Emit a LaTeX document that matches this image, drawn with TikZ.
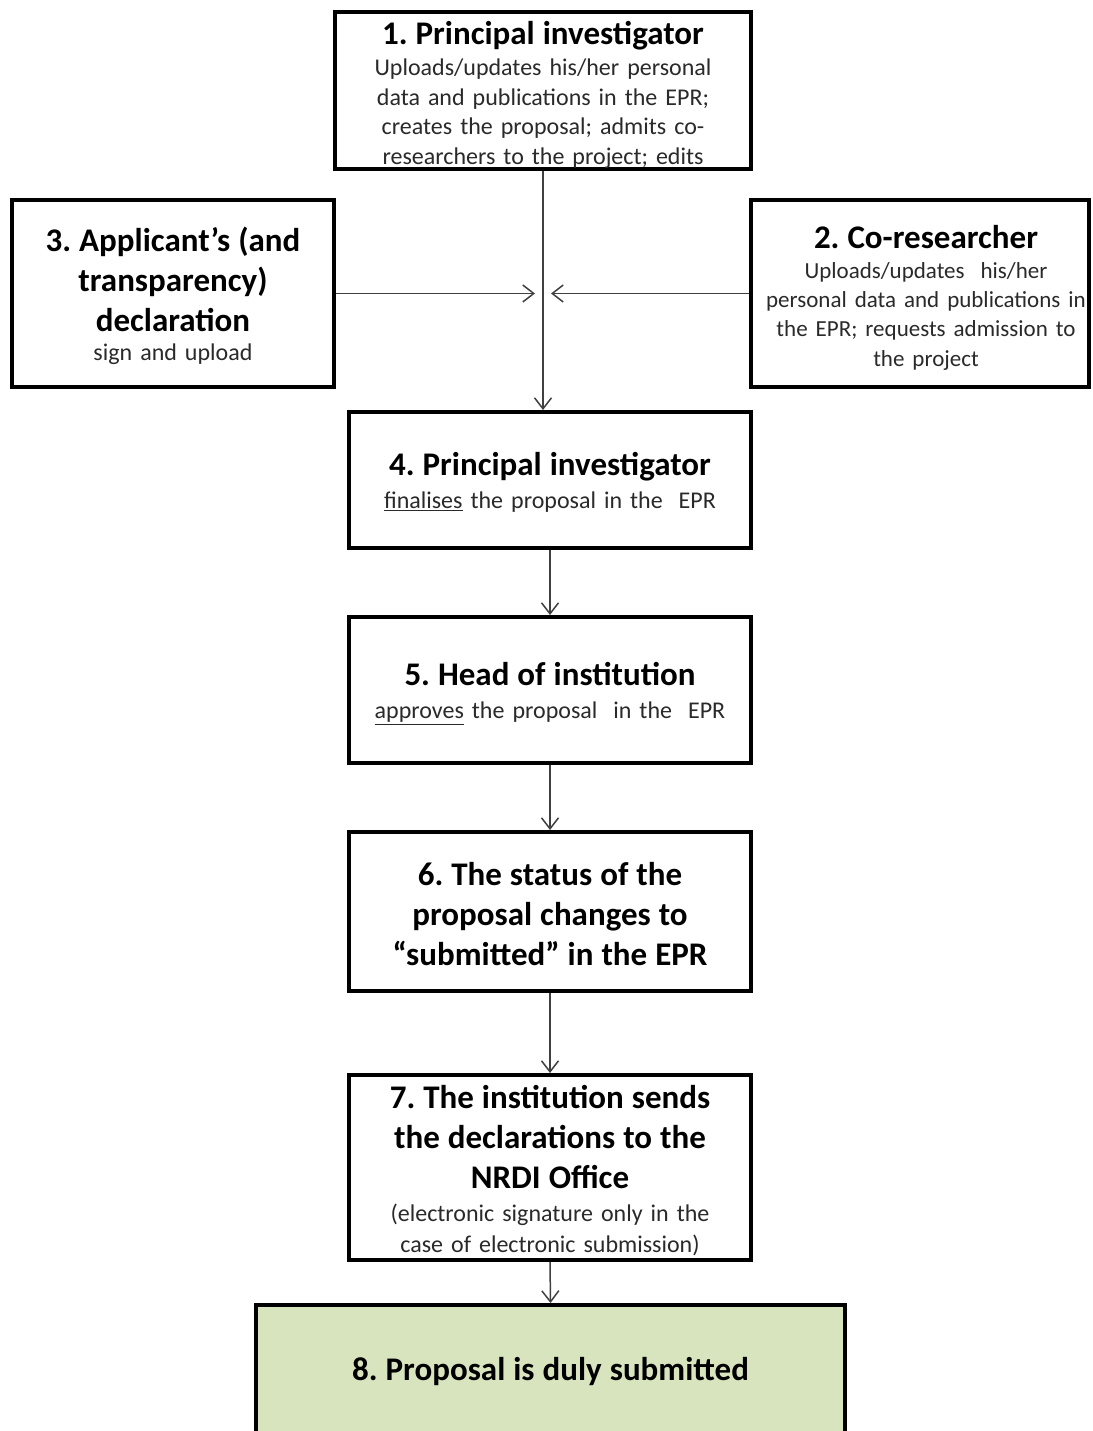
\documentclass[tikz,border=0pt]{standalone}
\usepackage{fontspec}
\setmainfont{Carlito}
\usetikzlibrary{arrows.meta}
\definecolor{bodytext}{HTML}{2A2A2A}
\definecolor{conncol}{HTML}{404040}
\definecolor{donefill}{HTML}{D7E4BD}
\newcommand{\Tf}{\fontsize{33}{40}\bfseries\selectfont\color{black}}
\newcommand{\Bf}{\fontsize{24}{29.5}\mdseries\selectfont\color{bodytext}}
\newcommand{\Bs}{\fontsize{23}{29.2}\mdseries\selectfont\color{bodytext}}
\newcommand{\sh}{\hspace*{12pt}}
\newcommand{\up}[1]{\rule{0pt}{#1}}
\newcommand{\boxsetup}{\frenchspacing\lineskiplimit=-100pt\relax\hyphenpenalty=10000\relax\exhyphenpenalty=10000\relax\Bf}
\begin{document}
\begin{tikzpicture}[x=1pt,y=-1pt,
  box/.style={draw=black, line width=4pt, inner sep=0pt, align=center,
    font=\boxsetup},
  conn/.style={draw=conncol, line width=1.5pt,
    -{Straight Barb[length=11pt,width=17pt,line width=1.5pt]}}]
\useasboundingbox (0,0) rectangle (1092,1431);
\fill[white] (0,0) rectangle (1092,1431);

\node[box, minimum width=416pt, minimum height=157pt, text width=405pt] (b1) at (543,90.5)
 {\Tf\up{32pt}1. Principal investigator\\[2pt]\Bf Uploads/updates his/her personal\\ data and publications in the EPR;\\ creates the proposal; admits co-\\ researchers to the project; edits};

\node[box, minimum width=322pt, minimum height=187pt, text width=312pt] (b3) at (173,293.5)
 {\Tf\up{29pt}3. Applicant’s (and\\ transparency)\\ declaration\\[0pt]\Bf sign and upload};

\node[box, minimum width=338pt, minimum height=187pt, text width=336pt] (b2) at (920,293.5)
 {\Tf\up{32pt}\sh 2. Co-researcher\\[0pt]\Bs\sh Uploads/updates\ \ his/her\\ \sh personal data and publications in\\ \sh the EPR; requests admission to\\ \sh the project};

\node[box, minimum width=402pt, minimum height=136pt, text width=392pt] (b4) at (550,480)
 {\Tf\up{28pt}4. Principal investigator\\[4pt]\Bf \underline{finalises} the proposal in the\ \ EPR};

\node[box, minimum width=402pt, minimum height=146pt, text width=392pt] (b5) at (550,690)
 {\Tf\up{30pt}5. Head of institution\\[4pt]\Bf \underline{approves} the proposal\ \ in the\ \ EPR};

\node[box, minimum width=402pt, minimum height=159pt, text width=392pt] (b6) at (550,911.5)
 {\Tf\up{28pt}6. The status of the\\ proposal changes to\\ “submitted” in the EPR\par};

\node[box, minimum width=402pt, minimum height=185pt, text width=392pt] (b7) at (550,1167.5)
 {\Tf\up{30pt}7. The institution sends\\ the declarations to the\\ NRDI Office\\[3pt]\Bf (electronic signature only in the\\[2pt] case of electronic submission)};

\node[box, fill=donefill, minimum width=589pt, minimum height=132pt, text width=575pt] (b8) at (550.5,1371)
 {\Tf 8. Proposal is duly submitted};

\coordinate (m) at (b1.south |- b3.east);
\draw[conn] (b1.south) -- (b1.south |- b4.north);
\draw[conn] (b3.east) -- ([xshift=-8pt]m);
\draw[conn] (b2.west) -- ([xshift=8pt]m);
\draw[conn] (b4.south) -- (b5.north);
\draw[conn] (b5.south) -- (b6.north);
\draw[conn] (b6.south) -- (b7.north);
\draw[conn] (b7.south) -- (b8.north);
\end{tikzpicture}
\end{document}
